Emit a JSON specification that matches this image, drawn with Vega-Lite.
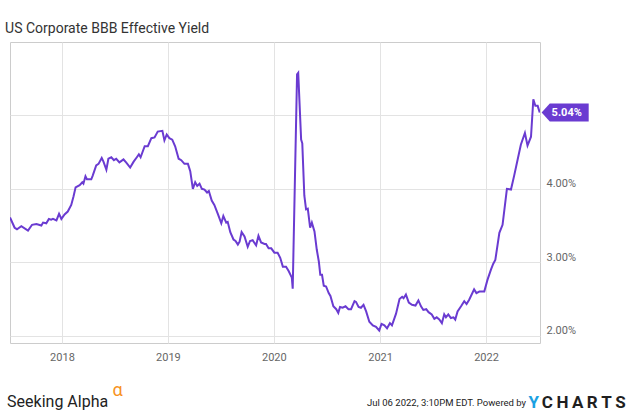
{
  "$schema": "https://vega.github.io/schema/vega-lite/v6.json",
  "width": 530,
  "height": 301,
  "autosize": {"type": "none"},
  "padding": {"left": 10, "top": 42, "right": 95, "bottom": 74},
  "background": "#ffffff",
  "title": {
    "text": "US Corporate BBB Effective Yield",
    "anchor": "start",
    "font": "Roboto",
    "fontSize": 14,
    "fontWeight": "normal",
    "color": "#333333",
    "baseline": "alphabetic",
    "offset": -5,
    "dx": -2
  },
  "config": {
    "font": "Roboto",
    "view": {"stroke": "#cccccc", "strokeWidth": 1},
    "axis": {
      "grid": true,
      "gridColor": "#e3e3e3",
      "gridWidth": 1,
      "domain": false,
      "ticks": false,
      "labelFont": "Roboto",
      "labelFontSize": 11,
      "labelColor": "#666666"
    }
  },
  "layer": [
    {
      "data": {
        "values": [
          {"d": "2017-07-06", "v": 3.61}, {"d": "2017-07-22", "v": 3.47}, {"d": "2017-07-30", "v": 3.45}, {"d": "2017-08-14", "v": 3.49},
          {"d": "2017-09-06", "v": 3.43}, {"d": "2017-09-20", "v": 3.51}, {"d": "2017-10-05", "v": 3.52}, {"d": "2017-10-22", "v": 3.50},
          {"d": "2017-10-28", "v": 3.54}, {"d": "2017-11-08", "v": 3.53}, {"d": "2017-11-17", "v": 3.59}, {"d": "2017-11-25", "v": 3.58},
          {"d": "2017-12-01", "v": 3.59}, {"d": "2017-12-13", "v": 3.57}, {"d": "2017-12-22", "v": 3.66}, {"d": "2017-12-30", "v": 3.59},
          {"d": "2018-01-10", "v": 3.65}, {"d": "2018-01-21", "v": 3.69}, {"d": "2018-02-02", "v": 3.78}, {"d": "2018-02-10", "v": 3.90},
          {"d": "2018-02-17", "v": 4.02}, {"d": "2018-03-03", "v": 4.05}, {"d": "2018-03-12", "v": 4.09}, {"d": "2018-03-16", "v": 4.07},
          {"d": "2018-03-23", "v": 4.17}, {"d": "2018-03-28", "v": 4.13}, {"d": "2018-04-12", "v": 4.13}, {"d": "2018-04-17", "v": 4.18},
          {"d": "2018-04-29", "v": 4.32}, {"d": "2018-05-07", "v": 4.34}, {"d": "2018-05-18", "v": 4.42}, {"d": "2018-05-24", "v": 4.37},
          {"d": "2018-06-03", "v": 4.26}, {"d": "2018-06-10", "v": 4.41}, {"d": "2018-06-20", "v": 4.43}, {"d": "2018-06-29", "v": 4.39},
          {"d": "2018-07-07", "v": 4.41}, {"d": "2018-07-18", "v": 4.36}, {"d": "2018-08-01", "v": 4.40}, {"d": "2018-08-10", "v": 4.36},
          {"d": "2018-08-24", "v": 4.29}, {"d": "2018-09-05", "v": 4.37}, {"d": "2018-09-16", "v": 4.43}, {"d": "2018-09-23", "v": 4.47},
          {"d": "2018-09-29", "v": 4.43}, {"d": "2018-10-13", "v": 4.58}, {"d": "2018-10-24", "v": 4.58}, {"d": "2018-11-05", "v": 4.69},
          {"d": "2018-11-16", "v": 4.70}, {"d": "2018-11-27", "v": 4.78}, {"d": "2018-12-13", "v": 4.79}, {"d": "2018-12-20", "v": 4.66},
          {"d": "2018-12-28", "v": 4.74}, {"d": "2019-01-06", "v": 4.69}, {"d": "2019-01-16", "v": 4.67}, {"d": "2019-01-26", "v": 4.58},
          {"d": "2019-02-07", "v": 4.41}, {"d": "2019-02-16", "v": 4.39}, {"d": "2019-02-27", "v": 4.34}, {"d": "2019-03-11", "v": 4.34},
          {"d": "2019-03-19", "v": 4.24}, {"d": "2019-03-28", "v": 4.00}, {"d": "2019-04-05", "v": 4.09}, {"d": "2019-04-12", "v": 4.04},
          {"d": "2019-04-20", "v": 4.07}, {"d": "2019-04-28", "v": 4.00}, {"d": "2019-05-07", "v": 3.99}, {"d": "2019-05-16", "v": 3.95},
          {"d": "2019-05-22", "v": 3.97}, {"d": "2019-06-01", "v": 3.84}, {"d": "2019-06-10", "v": 3.78}, {"d": "2019-06-22", "v": 3.66},
          {"d": "2019-07-04", "v": 3.53}, {"d": "2019-07-11", "v": 3.63}, {"d": "2019-07-21", "v": 3.54}, {"d": "2019-07-26", "v": 3.55},
          {"d": "2019-08-04", "v": 3.41}, {"d": "2019-08-15", "v": 3.31}, {"d": "2019-08-22", "v": 3.29}, {"d": "2019-08-30", "v": 3.24},
          {"d": "2019-09-05", "v": 3.28}, {"d": "2019-09-12", "v": 3.41}, {"d": "2019-09-22", "v": 3.35}, {"d": "2019-10-03", "v": 3.21},
          {"d": "2019-10-11", "v": 3.29}, {"d": "2019-10-20", "v": 3.30}, {"d": "2019-11-01", "v": 3.23}, {"d": "2019-11-09", "v": 3.36},
          {"d": "2019-11-18", "v": 3.27}, {"d": "2019-11-30", "v": 3.25}, {"d": "2019-12-05", "v": 3.25}, {"d": "2019-12-14", "v": 3.19},
          {"d": "2019-12-23", "v": 3.19}, {"d": "2020-01-03", "v": 3.13}, {"d": "2020-01-14", "v": 3.13}, {"d": "2020-01-23", "v": 3.06},
          {"d": "2020-02-01", "v": 2.94}, {"d": "2020-02-12", "v": 2.94}, {"d": "2020-02-21", "v": 2.88}, {"d": "2020-03-03", "v": 2.79},
          {"d": "2020-03-06", "v": 2.64}, {"d": "2020-03-21", "v": 5.56}, {"d": "2020-03-25", "v": 5.58}, {"d": "2020-04-04", "v": 4.67},
          {"d": "2020-04-08", "v": 4.62}, {"d": "2020-04-15", "v": 3.91}, {"d": "2020-04-21", "v": 3.72}, {"d": "2020-04-27", "v": 3.73},
          {"d": "2020-05-05", "v": 3.47}, {"d": "2020-05-11", "v": 3.54}, {"d": "2020-05-20", "v": 3.42}, {"d": "2020-05-28", "v": 3.17},
          {"d": "2020-06-04", "v": 3.01}, {"d": "2020-06-09", "v": 2.83}, {"d": "2020-06-15", "v": 2.83}, {"d": "2020-06-21", "v": 2.68},
          {"d": "2020-06-29", "v": 2.67}, {"d": "2020-07-08", "v": 2.58}, {"d": "2020-07-14", "v": 2.54}, {"d": "2020-07-24", "v": 2.40},
          {"d": "2020-08-03", "v": 2.36}, {"d": "2020-08-10", "v": 2.31}, {"d": "2020-08-16", "v": 2.39}, {"d": "2020-08-25", "v": 2.38},
          {"d": "2020-09-04", "v": 2.40}, {"d": "2020-09-14", "v": 2.36}, {"d": "2020-09-23", "v": 2.36}, {"d": "2020-10-05", "v": 2.47},
          {"d": "2020-10-10", "v": 2.46}, {"d": "2020-10-19", "v": 2.39}, {"d": "2020-10-27", "v": 2.38}, {"d": "2020-11-05", "v": 2.42},
          {"d": "2020-11-14", "v": 2.33}, {"d": "2020-11-25", "v": 2.19}, {"d": "2020-12-07", "v": 2.14}, {"d": "2020-12-18", "v": 2.12},
          {"d": "2020-12-29", "v": 2.07}, {"d": "2021-01-06", "v": 2.16}, {"d": "2021-01-16", "v": 2.14}, {"d": "2021-01-25", "v": 2.10},
          {"d": "2021-02-04", "v": 2.17}, {"d": "2021-02-11", "v": 2.14}, {"d": "2021-02-25", "v": 2.30}, {"d": "2021-03-09", "v": 2.50},
          {"d": "2021-03-18", "v": 2.53}, {"d": "2021-03-23", "v": 2.51}, {"d": "2021-03-31", "v": 2.56}, {"d": "2021-04-10", "v": 2.45},
          {"d": "2021-04-21", "v": 2.42}, {"d": "2021-05-03", "v": 2.41}, {"d": "2021-05-13", "v": 2.48}, {"d": "2021-05-22", "v": 2.40},
          {"d": "2021-05-30", "v": 2.35}, {"d": "2021-06-09", "v": 2.36}, {"d": "2021-06-17", "v": 2.32}, {"d": "2021-06-28", "v": 2.29},
          {"d": "2021-07-07", "v": 2.23}, {"d": "2021-07-15", "v": 2.25}, {"d": "2021-07-24", "v": 2.22}, {"d": "2021-08-02", "v": 2.17},
          {"d": "2021-08-10", "v": 2.29}, {"d": "2021-08-16", "v": 2.25}, {"d": "2021-08-24", "v": 2.29}, {"d": "2021-09-02", "v": 2.24},
          {"d": "2021-09-11", "v": 2.25}, {"d": "2021-09-17", "v": 2.22}, {"d": "2021-09-25", "v": 2.33}, {"d": "2021-10-07", "v": 2.40},
          {"d": "2021-10-18", "v": 2.47}, {"d": "2021-10-26", "v": 2.43}, {"d": "2021-11-04", "v": 2.49}, {"d": "2021-11-21", "v": 2.63},
          {"d": "2021-11-29", "v": 2.58}, {"d": "2021-12-09", "v": 2.60}, {"d": "2021-12-26", "v": 2.60}, {"d": "2022-01-06", "v": 2.76},
          {"d": "2022-01-18", "v": 2.90}, {"d": "2022-01-26", "v": 2.98}, {"d": "2022-02-02", "v": 3.03}, {"d": "2022-02-16", "v": 3.40},
          {"d": "2022-02-27", "v": 3.51}, {"d": "2022-03-14", "v": 4.00}, {"d": "2022-03-28", "v": 3.99}, {"d": "2022-04-08", "v": 4.18},
          {"d": "2022-04-20", "v": 4.40}, {"d": "2022-05-01", "v": 4.60}, {"d": "2022-05-15", "v": 4.76}, {"d": "2022-05-24", "v": 4.59},
          {"d": "2022-06-05", "v": 4.71}, {"d": "2022-06-13", "v": 5.22}, {"d": "2022-06-20", "v": 5.13}, {"d": "2022-06-28", "v": 5.13},
          {"d": "2022-07-05", "v": 5.04}
        ]
      },
      "mark": {"type": "line", "color": "#6a3bd1", "strokeWidth": 2, "clip": true},
      "encoding": {
        "x": {
          "field": "d", "type": "temporal", "title": null,
          "scale": {"type": "utc", "domain": [{"year": 2017, "month": 7, "date": 6, "utc": true}, {"year": 2022, "month": 7, "date": 6, "utc": true}]},
          "axis": {
            "values": [{"year": 2018, "month": 1, "date": 1, "utc": true}, {"year": 2019, "month": 1, "date": 1, "utc": true}, {"year": 2020, "month": 1, "date": 1, "utc": true}, {"year": 2021, "month": 1, "date": 1, "utc": true}, {"year": 2022, "month": 1, "date": 1, "utc": true}],
            "format": "%Y",
            "labelPadding": 8,
            "labelFlush": false
          }
        },
        "y": {
          "field": "v", "type": "quantitative", "title": null,
          "scale": {"domain": [1.9, 6.0], "nice": false, "zero": false},
          "axis": {
            "orient": "right",
            "values": [2, 3, 4, 5],
            "labelExpr": "datum.value == 5 ? '' : format(datum.value, '.2f') + '%'",
            "labelPadding": 6,
            "labelBaseline": "alphabetic",
            "labelOffset": -2,
            "labelFlush": false
          }
        }
      }
    },
    {
      "data": {"values": [{"d": "2022-07-05", "v": 5.04, "t": "5.04%"}]},
      "mark": {"type": "point", "shape": "M0.08,0L0.42,-0.375L2.04,-0.375L2.04,0.375L0.42,0.375Z", "size": 2304, "filled": true, "color": "#6a3bd1", "opacity": 1, "strokeWidth": 0},
      "encoding": {
        "x": {"field": "d", "type": "temporal"},
        "y": {"field": "v", "type": "quantitative"}
      }
    },
    {
      "data": {"values": [{"d": "2022-07-05", "v": 5.04, "t": "5.04%"}]},
      "mark": {"type": "text", "align": "center", "baseline": "middle", "dx": 27, "dy": 0.5, "font": "Roboto", "fontSize": 11, "fontWeight": "bold", "color": "#ffffff"},
      "encoding": {
        "x": {"field": "d", "type": "temporal"},
        "y": {"field": "v", "type": "quantitative"},
        "text": {"field": "t"}
      }
    },
    {
      "data": {"values": [{"t": "Seeking Alpha"}]},
      "mark": {"type": "text", "align": "left", "baseline": "alphabetic", "font": "Roboto", "fontSize": 16, "color": "#222222"},
      "encoding": {
        "x": {"datum": {"year": 2017, "month": 6, "date": 26, "utc": true}, "type": "temporal"},
        "y": {"datum": 1.035, "type": "quantitative"},
        "text": {"field": "t"}
      }
    },
    {
      "data": {"values": [{"t": "α"}]},
      "mark": {"type": "text", "align": "left", "baseline": "alphabetic", "font": "Roboto", "fontSize": 18, "color": "#f7931e"},
      "encoding": {
        "x": {"datum": {"year": 2018, "month": 6, "date": 24, "utc": true}, "type": "temporal"},
        "y": {"datum": 1.175, "type": "quantitative"},
        "text": {"field": "t"}
      }
    },
    {
      "data": {"values": [{"t": "Jul 06 2022, 3:10PM EDT.  Powered by"}]},
      "mark": {"type": "text", "align": "right", "baseline": "alphabetic", "font": "Roboto", "fontSize": 9.5, "color": "#222222"},
      "encoding": {
        "x": {"datum": {"year": 2022, "month": 5, "date": 19, "utc": true}, "type": "temporal"},
        "y": {"datum": 1.046, "type": "quantitative"},
        "text": {"field": "t"}
      }
    },
    {
      "data": {"values": [{"t": "Y"}]},
      "mark": {"type": "text", "align": "left", "baseline": "alphabetic", "font": "Roboto", "fontSize": 17, "fontWeight": "bold", "color": "#1ba1e2"},
      "encoding": {
        "x": {"datum": {"year": 2022, "month": 5, "date": 27, "utc": true}, "type": "temporal"},
        "y": {"datum": 1.015, "type": "quantitative"},
        "text": {"field": "t"}
      }
    },
    {
      "data": {"values": [{"t": "C\u2009H\u2009A\u2009R\u2009T\u2009S"}]},
      "mark": {"type": "text", "align": "right", "baseline": "alphabetic", "font": "Roboto", "fontSize": 17, "fontWeight": "bold", "color": "#1f1f1f"},
      "encoding": {
        "x": {"datum": {"year": 2023, "month": 4, "date": 27, "utc": true}, "type": "temporal"},
        "y": {"datum": 1.015, "type": "quantitative"},
        "text": {"field": "t"}
      }
    }
  ]
}
